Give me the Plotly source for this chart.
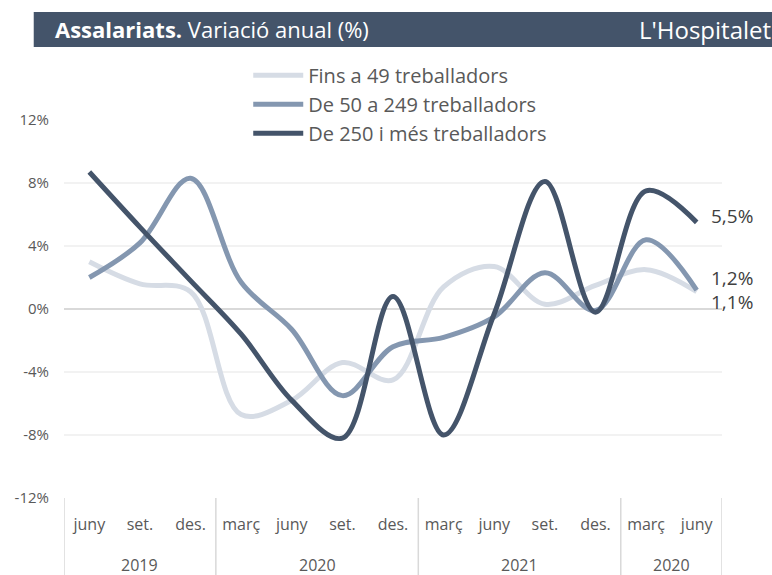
import plotly.graph_objects as go

# categories
months = ["juny", "set.", "des.", "març", "juny", "set.", "des.",
          "març", "juny", "set.", "des.", "març", "juny"]
years = ["2019", "2020", "2021", "2020"]
year_sizes = [3, 4, 4, 2]

# series (variació anual, %)
fins_49 = [3.0, 1.6, 1.1, -6.7, -5.8, -3.4, -4.5, 1.4, 2.7, 0.3, 1.5, 2.5, 1.1]
de_50_249 = [2.0, 4.2, 8.3, 1.7, -1.3, -5.5, -2.4, -1.8, -0.5, 2.3, -0.1, 4.4, 1.2]
de_250 = [8.7, 5.2, 1.8, -1.6, -5.8, -8.2, 0.8, -8.0, -0.3, 8.1, -0.2, 7.5, 5.5]

series_names = ["Fins a 49 treballadors", "De 50 a 249 treballadors", "De 250 i més treballadors"]
series_vals = [fins_49, de_50_249, de_250]
colors = ["#D6DCE5", "#8497B0", "#44546A"]
end_labels = ["1,1%", "1,2%", "5,5%"]

y_ticks = [-12, -8, -4, 0, 4, 8, 12]

FONT = "Open Sans"
GREY = "#595959"

x = list(range(len(months)))

fig = go.Figure()
for name, vals, col in zip(series_names, series_vals, colors):
    fig.add_trace(go.Scatter(
        x=x, y=vals, name=name, mode="lines",
        line=dict(color=col, width=5, shape="spline", smoothing=1.0),
        hoverinfo="skip",
    ))

# end value labels
shifts = [-10, 12, 6]
for vals, lab, ys in zip(series_vals, end_labels, shifts):
    fig.add_annotation(x=x[-1], y=vals[-1], text=lab, showarrow=False,
                       xanchor="left", yanchor="middle", xshift=12, yshift=ys,
                       font=dict(family=FONT, size=19, color="#404040"))

# year group labels and dividers
shapes = []
start = -0.5
for yr, n in zip(years, year_sizes):
    end = start + n
    fig.add_annotation(x=(start + end) / 2, y=-0.177, xref="x", yref="paper",
                       text=yr, showarrow=False, yanchor="middle",
                       font=dict(family=FONT, size=16, color=GREY))
    shapes.append(dict(type="line", xref="x", yref="paper", x0=start, x1=start,
                       y0=0, y1=-0.21, line=dict(color="#D9D9D9", width=1.5)))
    start = end
shapes.append(dict(type="line", xref="x", yref="paper", x0=start, x1=start,
                   y0=0, y1=-0.21, line=dict(color="#D9D9D9", width=1.5)))

# title bar
shapes.append(dict(type="rect", xref="paper", yref="paper", x0=-0.046, x1=1.08,
                   y0=1.193, y1=1.286, fillcolor="#44546A", line=dict(width=0),
                   layer="below"))
fig.add_annotation(x=-0.016, y=1.24, xref="paper", yref="paper", xanchor="left",
                   yanchor="middle", showarrow=False,
                   text="<b>Assalariats.</b> Variació anual (%)",
                   font=dict(family=FONT, size=22, color="white"))
fig.add_annotation(x=1.077, y=1.24, xref="paper", yref="paper", xanchor="right",
                   yanchor="middle", showarrow=False, text="L'Hospitalet",
                   font=dict(family=FONT, size=24, color="white"))

fig.update_layout(
    width=772, height=575,
    margin=dict(l=64, r=50, t=120, b=77),
    plot_bgcolor="white", paper_bgcolor="white",
    shapes=shapes,
    showlegend=True,
    legend=dict(x=0.28, y=1.17, xanchor="left", yanchor="top",
                font=dict(family=FONT, size=20, color=GREY),
                bgcolor="rgba(0,0,0,0)", itemwidth=50, tracegroupgap=0),
    xaxis=dict(range=[-0.5, len(months) - 0.5], tickvals=x, ticktext=months,
               showgrid=False, zeroline=False, showline=False, ticks="",
               tickfont=dict(family=FONT, size=16, color=GREY),
               ticklabelstandoff=15),
    yaxis=dict(range=[-12, 12], tickvals=y_ticks,
               ticktext=[f"{v}%" for v in y_ticks],
               showgrid=True, gridcolor="#F2F2F2", gridwidth=1.5,
               zeroline=True, zerolinecolor="#D9D9D9", zerolinewidth=1.5,
               showline=False, ticks="",
               tickfont=dict(family=FONT, size=15, color=GREY),
               ticklabelstandoff=14),
)

fig.write_html("out.html", config={"displayModeBar": False},
               post_script="document.body.style.margin='0';")
